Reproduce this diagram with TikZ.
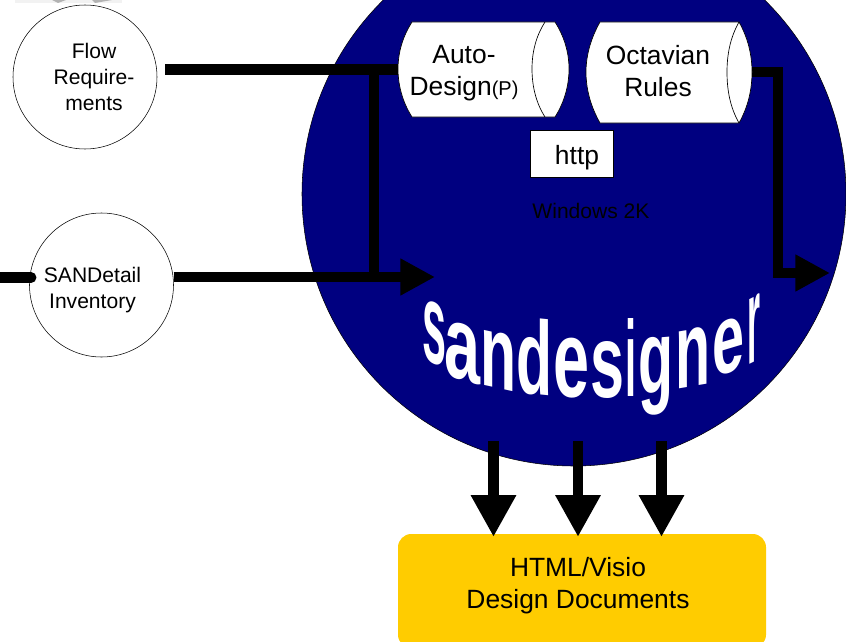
\documentclass[tikz,border=0pt]{standalone}
\usepackage{fontspec}
\usepackage{graphicx}
\setmainfont{Liberation Sans}
\usetikzlibrary{arrows.meta}
\definecolor{sannavy}{HTML}{000080}
\definecolor{docyellow}{HTML}{FFCC00}
\newlength{\pxunit}
\setlength{\pxunit}{0.75pt}
\newcommand{\sdglyph}[3]{\resizebox*{#2\pxunit}{#3\pxunit}{\bfseries #1}}
\tikzset{
	source/.style={draw=black,fill=white,circle,inner sep=0pt,minimum size=108pt},
	small/.style={align=center,inner sep=0pt,font=\fontsize{15.8}{19.5}\selectfont},
	large/.style={align=center,inner sep=0pt,font=\fontsize{19.8}{24}\selectfont},
	drum/.style={draw=black,line width=0.5pt,fill=white},
	pipe/.style={line width=8.2pt},
	sidearrow/.style={pipe,-{Triangle[length=26pt,width=26pt]}},
	downarrow/.style={pipe,-{Triangle[length=31.5pt,width=32pt]}},
	wordmark/.style={inner sep=0pt,text=white}
}
\begin{document}
\begin{tikzpicture}[x=0.75pt,y=-0.75pt]
	\useasboundingbox (0,0) rectangle (846,642);
	\clip (0,0) rectangle (846,642);
	\fill[white] (0,0) rectangle (846,642);
	% smudge left along the top edge
	\fill[black!5] (15,0) rectangle (122,3);
	\fill[black!30] (52,0) -- (66,0) -- (58,3) -- cycle;
	\fill[black!30] (92,0) -- (112,0) -- (95,3) -- cycle;
	\node[draw=black,fill=sannavy,circle,inner sep=0pt,minimum size=408pt] (san) at (574,194) {};
	\node[source] (flow) at (85,77) {};
	\node[source] (inventory) at (101.5,285) {};
	\node[small] (flowtext) at (94,77) {Flow\\Require-\\ments};
	\node[small] (inventorytext) at (92.5,290.5) {SANDetail\\Inventory};
	% connectors
	\coordinate (flowout) at (165,69.5);
	\coordinate (autoin) at (400,69.5);
	\coordinate (joinout) at (374,69.5);
	\coordinate (joinin) at (374,277);
	\coordinate (invin) at (0,277.5);
	\coordinate (invstub) at (31,277.5);
	\coordinate (invout) at (173.5,277);
	\coordinate (hit) at (435,277);
	\coordinate (octout) at (750,72);
	\coordinate (octbend) at (778,72);
	\coordinate (octdown) at (778,273);
	\coordinate (octhit) at (830,273);
	\draw[pipe] (flowout) -- (autoin);
	\draw[pipe] (joinout) -- (joinin);
	\draw[pipe,line cap=round] (invin) -- (invstub);
	\draw[sidearrow] (invout) -- (hit);
	\draw[sidearrow] (octout) -- (octbend) -- (octdown) -- (octhit);
	% drums
	\draw[drum] (412,22) -- (555,22) .. controls (564,36) and (569,52) .. (569,69) .. controls (569,86) and (564,103) .. (555,117) -- (412,117) .. controls (403,103) and (398,86) .. (398,69) .. controls (398,52) and (403,36) .. (412,22) -- cycle;
	\draw[line width=0.5pt] (545,22) .. controls (536,36) and (532,52) .. (532,69) .. controls (532,86) and (536,103) .. (545,117);
	\draw[drum] (600,22) -- (739,22) .. controls (748,38) and (752,55) .. (752,72) .. controls (752,90) and (748,107) .. (739,123) -- (600,123) .. controls (591,107) and (586,90) .. (586,72) .. controls (586,55) and (591,38) .. (600,22) -- cycle;
	\draw[line width=0.5pt] (739,22) .. controls (730,38) and (727,55) .. (727,72) .. controls (727,90) and (730,107) .. (739,123);
	\node[large] (autodesign) at (464,73.5) {Auto-\\Design{\fontsize{15}{24}\selectfont(P)}};
	\node[large] (octavian) at (658,71.5) {Octavian\\Rules};
	\node[draw=black,fill=white,line width=0.5pt,minimum width=62.5pt,minimum height=35.5pt,inner sep=0pt] (http) at (572,154) {};
	\node[large] (httptext) at (577,158) {http};
	\node[small] (windows) at (591,211) {Windows 2K};
	% warped name
	\foreach \ltr/\lx/\ly/\lw/\lh/\ls [count=\n] in {s/434/333/24/62/-0.4,a/462.5/352/36/57/-0.3,n/498/360/36/56/-0.22,d/534.5/356.5/36/77/-0.1,e/571/368/36/60/-0.03,s/607/370/34/57/0,i/631/357/11/78/0,g/656/376/35/78/0.08,n/693/358/35/58/0.17,e/728/347/32/54/0.3,r/754/329/13/66/0.5}
		\node[wordmark,yslant=\ls] (ltr\n) at (\lx,\ly) {\sdglyph{\ltr}{\lw}{\lh}};
	% documents
	\fill[docyellow,rounded corners=10pt] (398,534) rectangle (766,648);
	\node[large] (docs) at (578,586) {HTML/Visio\\Design Documents};
	\foreach \ax/\name in {493.5/a,578/b,661.5/c}{
		\coordinate (out\name) at (\ax,441);
		\coordinate (in\name) at (\ax,537);
		\draw[downarrow] (out\name) -- (in\name);
	}
\end{tikzpicture}
\end{document}
